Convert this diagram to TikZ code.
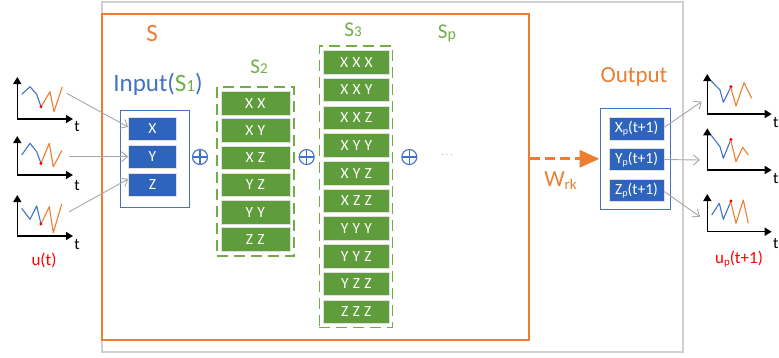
\documentclass[tikz,border=0pt]{standalone}
\usepackage{fontspec}
\setmainfont{Carlito}
\usetikzlibrary{arrows.meta}
\definecolor{orng}{HTML}{ED7D31}
\definecolor{grn}{HTML}{70AD47}
\definecolor{blu}{HTML}{4472C4}
\definecolor{boxblue}{HTML}{2E64BC}
\definecolor{boxgreen}{HTML}{5F9C3C}
\definecolor{lgray}{HTML}{A6A6A6}
\definecolor{framegray}{HTML}{D0D0D0}
\definecolor{dotred}{HTML}{FF0000}
\newcommand{\fs}[1]{\fontsize{#1}{#1}\selectfont}
\newcommand{\gs}{\hspace{4.2pt}}
\begin{document}
\begin{tikzpicture}[x=1pt,y=-1pt,
  inbox/.style={fill=boxblue, draw=black!12, line width=0.6pt, text=white,
    minimum width=48pt, minimum height=23pt, inner sep=0pt, font=\fs{15.5}},
  outbox/.style={fill=boxblue, draw=black!12, line width=0.6pt, text=white,
    minimum width=55pt, minimum height=22.5pt, inner sep=0pt, font=\fs{15.5}},
  grbox/.style={fill=boxgreen, draw=black!12, line width=0.6pt, text=white,
    minimum height=23.5pt, inner sep=0pt, font=\fs{15.5}},
  gframe/.style={draw=grn, line width=1.1pt, dash pattern=on 11pt off 6pt, inner sep=0pt},
  bframe/.style={draw=blu, line width=1pt, inner sep=0pt},
  oplus/.style={circle, draw=blu, line width=1.1pt, minimum size=15pt, inner sep=0pt,
    path picture={\draw[blu, line width=1.1pt]
      (path picture bounding box.north) -- (path picture bounding box.south)
      (path picture bounding box.west) -- (path picture bounding box.east);}},
  axis/.style={black, line width=1.4pt, {Triangle[length=7pt,width=8pt]}-{Triangle[length=7pt,width=8pt]}},
  bl/.style={blu, line width=1.1pt, line join=round},
  orl/.style={orng, line width=1.1pt, line join=round},
  conn/.style={lgray, line width=0.9pt, -{Straight Barb[length=6pt,width=10pt]}},
  tlab/.style={font=\fs{16}, inner sep=0pt, anchor=base},
  lab/.style={inner sep=0pt, anchor=base}
]
\useasboundingbox (0,0) rectangle (779,357);
% frames
\node[draw=framegray, line width=1.2pt, minimum width=581pt, minimum height=350pt, inner sep=0pt] (outer) at (392.5,177) {};
\node[draw=orng, line width=2pt, minimum width=427pt, minimum height=326pt, inner sep=0pt] (Sbox) at (315.5,177) {};

% labels
\node[lab, text=orng, font=\fs{25}] (Slab) at (152,41.5) {S};
\node[lab, font=\fs{25}] (inlab) at (158,91.7) {\color{blu}Input(\color{grn}S{\fs{17}1}\color{blu})};
\node[lab, text=grn, font=\fs{21}] (s2lab) at (259,73.3) {S{\fs{15}2}};
\node[lab, text=grn, font=\fs{21}] (s3lab) at (353,36) {S{\fs{15}3}};
\node[lab, text=grn, font=\fs{21}] (splab) at (447,38.3) {S\raisebox{-1pt}{\fs{16}p}};
\node[lab, text=orng, font=\fs{23}] (outlab) at (634,82.3) {Output};
\node[lab, text=orng, font=\fs{23}] (wlab) at (560.5,186.7) {W\raisebox{-2.5pt}{\fs{15}rk}};
\node[lab, text=dotred, font=\fs{17}] (ulab) at (44,265) {u(t)};
\node[lab, text=dotred, font=\fs{17}] (uplab) at (739,263.3) {u\raisebox{-2.5pt}{\fs{11}p}(t+1)};

% input box
\node[bframe, minimum width=69pt, minimum height=96.6pt] (inframe) at (154.5,159) {};
\node[inbox] (X) at (152.5,129) {X};
\node[inbox] (Y) at (152.5,156.7) {Y};
\node[inbox] (Z) at (152.5,185) {Z};

% S2
\node[gframe, minimum width=77pt, minimum height=169pt] (s2frame) at (255.5,171.5) {};
\foreach \lbl [count=\i] in {X\gs X,X\gs Y,X\gs Z,Y\gs Z,Y\gs Y,Z\gs Z}{
  \pgfmathsetmacro{\yy}{103.3+27.2*(\i-1)}
  \node[grbox, minimum width=69pt] (s2-\i) at (255.3,\yy) {\lbl};
}

% S3
\node[gframe, minimum width=73.4pt, minimum height=281.7pt] (s3frame) at (356,186.85) {};
\foreach \lbl [count=\i] in {X\gs X\gs X,X\gs X\gs Y,X\gs X\gs Z,X\gs Y\gs Y,X\gs Y\gs Z,X\gs Z\gs Z,Y\gs Y\gs Y,Y\gs Y\gs Z,Y\gs Z\gs Z,Z\gs Z\gs Z}{
  \pgfmathsetmacro{\yy}{62.3+27.7*(\i-1)}
  \node[grbox, minimum width=66pt] (s3-\i) at (356.3,\yy) {\lbl};
}

% oplus and dots
\node[oplus] (o1) at (200,157) {};
\node[oplus] (o2) at (306.7,157) {};
\node[oplus] (o3) at (409.3,157) {};
\node[text=grn, inner sep=0pt] (dots) at (447,155) {$\cdots$};

% output
\node[bframe, minimum width=70pt, minimum height=101pt] (outframe) at (635,158.8) {};
\node[outbox] (Xp) at (636.5,128.7) {X\raisebox{-2.5pt}{\fs{10}p}(t+1)};
\node[outbox] (Yp) at (636.5,159.5) {Y\raisebox{-2.5pt}{\fs{10}p}(t+1)};
\node[outbox] (Zp) at (636.5,190.5) {Z\raisebox{-2.5pt}{\fs{10}p}(t+1)};

% Wrk arrow
\draw[orng, line width=3pt, dash pattern=on 10pt off 5pt,
  -{Triangle[length=20pt,width=17pt]}] (Sbox.east |- outframe.west) -- (outframe.west);

% left graphs
\draw[axis] (17.3,77) -- (17.3,119) -- (73,119);
\draw[bl] (21.7,94.3) -- (30,86.7) -- (36.7,94.3) -- (41,106.7);
\draw[orl] (41,106.7) -- (50,91.7) -- (54,111.7) -- (62.3,86.7);
\fill[dotred] (41,106.7) circle (1.7);
\node[tlab] (t1) at (77,131.5) {t};

\draw[axis] (17.3,136) -- (17.3,175) -- (73,175);
\draw[bl] (21.7,155) -- (30,143.3) -- (36.7,151.7) -- (41,163.3);
\draw[orl] (41,163.3) -- (49.3,143.3) -- (53.3,166.7) -- (61.7,150.7);
\fill[dotred] (41,163.3) circle (1.7);
\node[tlab] (t2) at (77,190) {t};

\draw[axis] (17.3,195) -- (17.3,236) -- (73,236);
\draw[bl] (21.7,208.3) -- (30,219.3) -- (36.7,206) -- (41,224);
\draw[orl] (41,224) -- (49.3,206.7) -- (53.3,232.7) -- (61.7,204);
\fill[dotred] (41,224) circle (1.7);
\node[tlab] (t3) at (77,249.3) {t};

% right graphs
\draw[axis] (707.3,74) -- (707.3,114) -- (771.7,114);
\draw[bl] (711,80.7) -- (720,90) -- (723.3,102.3) -- (730.7,87.3);
\draw[orl] (730.7,87.3) -- (736,106) -- (744,82.7) -- (751.7,98.3);
\fill[dotred] (730.9,86.7) circle (1.7);
\node[tlab, anchor=base west] (rt1) at (773,127) {t};

\draw[axis] (707.3,128.3) -- (707.3,170) -- (771.7,170);
\draw[bl] (711,135) -- (720,146.7) -- (723.3,158.3) -- (730.7,140);
\draw[orl] (730.7,140) -- (736,161.7) -- (742.7,147.3) -- (748.3,155);
\fill[dotred] (730.9,139.4) circle (1.7);
\node[tlab, anchor=base west] (rt2) at (773,183) {t};

\draw[axis] (707.3,194) -- (707.3,231.7) -- (771.7,231.7);
\draw[bl] (711.7,215) -- (719.3,203.3) -- (723.3,219.3) -- (730.7,201.7);
\draw[orl] (730.7,201.7) -- (736,223.3) -- (743.3,200) -- (748.3,223.3);
\fill[dotred] (730.9,201.1) circle (1.7);
\node[tlab, anchor=base west] (rt3) at (773,248) {t};

% connectors
\coordinate (g1) at (66.7,93.3);
\coordinate (g2) at (69.3,156.7);
\coordinate (g3) at (69.3,211.7);
\draw[conn] (g1) -- ([yshift=2pt]X.west);
\draw[conn] (g2) -- (Y.west);
\draw[conn] (g3) -- ([yshift=6pt]Z.west);
\coordinate (h1) at (701.7,101.7);
\coordinate (h2) at (700,160);
\coordinate (h3) at (700,216.7);
\draw[conn] ([yshift=1.5pt]Xp.east) -- (h1);
\draw[conn] (Yp.east) -- (h2);
\draw[conn] ([yshift=-1pt]Zp.east) -- (h3);
\end{tikzpicture}
\end{document}
